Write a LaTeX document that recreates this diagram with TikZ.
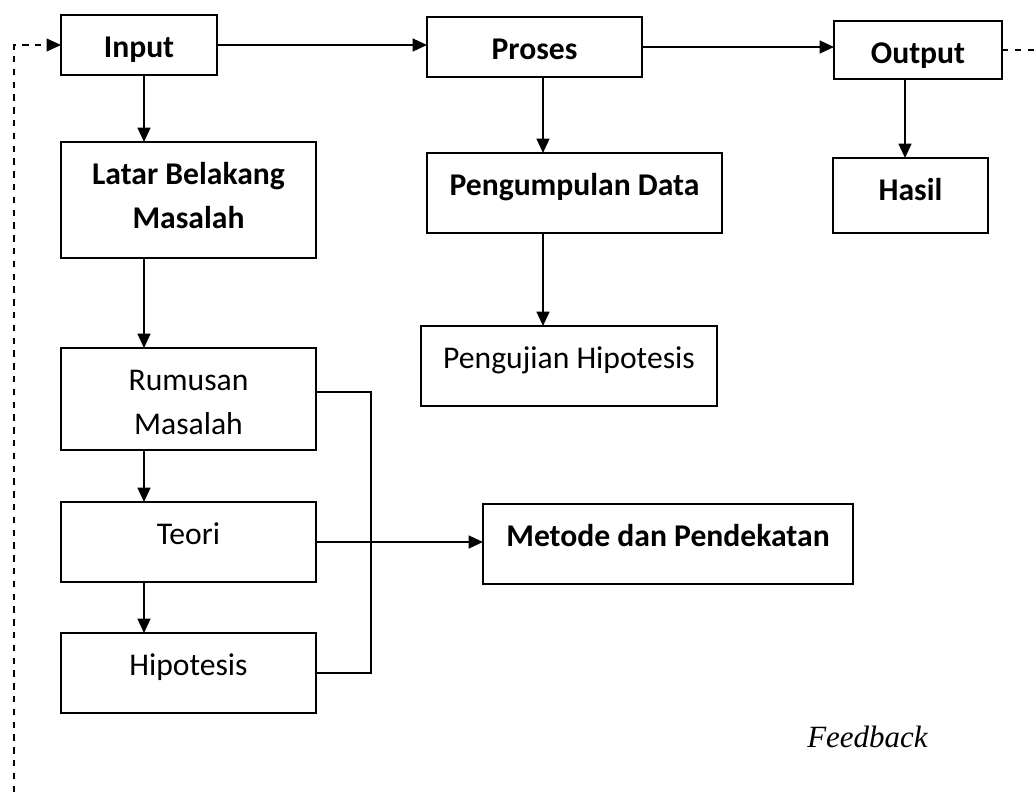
\documentclass[tikz,border=0pt]{standalone}
\usepackage{fontspec}
\setmainfont{Carlito}
\newfontfamily\fbfont{Liberation Serif}
\usepackage{tikz}
\usetikzlibrary{positioning,arrows.meta}
\newcommand{\boxfont}{\fontsize{22.5}{32}\selectfont}
\tikzset{
  box/.style      ={draw, line width=1.3pt, inner sep=0pt, outer sep=0pt, align=flush center,
                    font=\boxfont, text height=10.5mm, text depth=#1},
  boldbox/.style  ={box=#1, font=\boxfont\bfseries},
  flowarr/.style  ={-{Triangle[length=3.6mm,width=3.2mm]}, line width=1.6pt},
  linkline/.style ={line width=1pt},
  dashedarr/.style={line width=1.1pt, dash pattern=on 1.6mm off 1.6mm},
}

\begin{document}
\begin{tikzpicture}
\useasboundingbox (0,0) rectangle (258.75mm,-198mm);
% top row
\node[boldbox=4.5mm, text width=39mm, anchor=north west] (inp) at (15.25mm,-3.75mm) {Input};
\node[boldbox=4.5mm, text width=53.75mm, right=52.5mm of inp, yshift=-0.5mm] (pros) {Proses};
\node[boldbox=4mm, text width=42mm, right=48mm of pros, yshift=-0.75mm] (outp) {Output};
% input column
\node[boldbox=18.5mm, text width=63.75mm, below right=16.75mm and 0mm of inp.south west] (latar) {Latar Belakang\\Masalah};
\node[box=15mm, text width=63.75mm, below right=22.5mm and 0mm of latar.south west] (rumus) {Rumusan\\Masalah};
\node[box=9.5mm, text width=63.75mm, below right=13mm and 0mm of rumus.south west] (teori) {Teori};
\node[box=9.5mm, text width=63.75mm, below right=12.75mm and 0mm of teori.south west] (hipo) {Hipotesis};
% proses column
\node[boldbox=9.5mm, text width=73.75mm, below right=19mm and 0mm of pros.south west] (kumpul) {Pengumpulan Data};
\node[box=9.5mm, text width=74mm, below right=23.25mm and -1.5mm of kumpul.south west] (uji) {Pengujian Hipotesis};
\node[boldbox=9.5mm, text width=92.5mm, below right=0.5mm and 41.75mm of teori.north east] (metode) {Metode dan Pendekatan};
% output column
\node[boldbox=8.25mm, text width=38.75mm, below right=19.75mm and -0.25mm of outp.south west] (hasil) {Hasil};
\node[font=\fbfont\itshape\fontsize{22}{26}\selectfont, anchor=base west, inner sep=0pt] (fb) at (201.75mm,-186.75mm) {Feedback};

\coordinate (lcol) at (36mm,0);
\coordinate (mcol) at (135.75mm,0);
\coordinate (rcol) at (226.25mm,0);
\coordinate (bus) at (92.75mm,0);
\coordinate (fbfoot) at (3.5mm,-198mm);
\coordinate (fbend) at (258.75mm,0);

\draw[flowarr] (inp.east) -- (inp.east -| pros.west);
\draw[flowarr] (pros.east) -- (pros.east -| outp.west);
\draw[flowarr] (inp.south -| lcol) -- (latar.north -| lcol);
\draw[flowarr] (latar.south -| lcol) -- (rumus.north -| lcol);
\draw[flowarr] (rumus.south -| lcol) -- (teori.north -| lcol);
\draw[flowarr] (teori.south -| lcol) -- (hipo.north -| lcol);
\draw[flowarr] (pros.south -| mcol) -- (kumpul.north -| mcol);
\draw[flowarr] (kumpul.south -| mcol) -- (uji.north -| mcol);
\draw[flowarr] (outp.south -| rcol) -- (hasil.north -| rcol);

% bracket to metode
\draw[linkline] ([yshift=1.75mm]rumus.east) -| (bus |- hipo.east) -- (hipo.east);
\draw[linkline] (teori.east) -- (bus |- teori.east);
\draw[flowarr] (bus |- teori.east) -- (teori.east -| metode.west);

% feedback loop
\draw[dashedarr] (outp.east) -- (outp.east -| fbend);
\draw[dashedarr, -{Triangle[length=3.6mm,width=3.2mm]}] (fbfoot) -- (fbfoot |- inp.west) -- (inp.west);
\end{tikzpicture}
\end{document}
